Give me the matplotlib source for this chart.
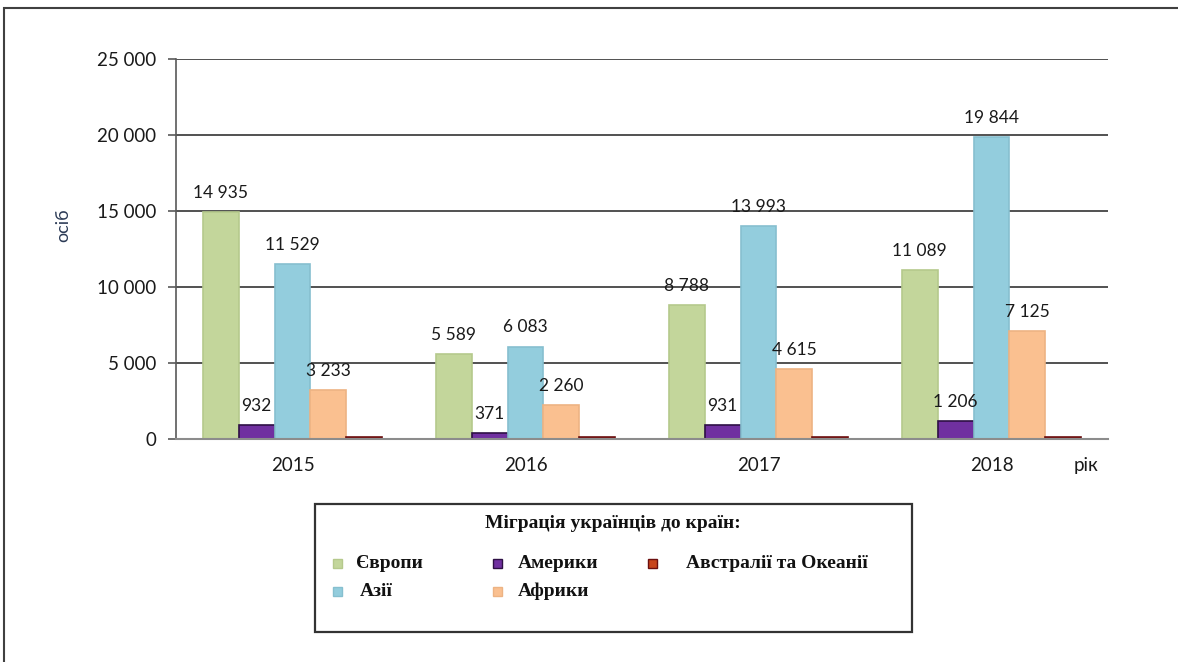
import matplotlib.pyplot as plt
from matplotlib.patches import Rectangle
import numpy as np

years = ["2015", "2016", "2017", "2018"]
europe = [14935, 5589, 8788, 11089]
america = [932, 371, 931, 1206]
asia = [11529, 6083, 13993, 19844]
africa = [3233, 2260, 4615, 7125]
oceania = [130, 110, 120, 140]

plt.rcParams['font.family'] = ['Lato', 'DejaVu Sans']

W, H = 1178, 662
fig = plt.figure(figsize=(W / 100, H / 100), dpi=100)
ax = fig.add_axes([0.1494, 0.3369, 0.7912, 0.574])


def fx(px):
    return px / W


def fy(py):
    return 1 - py / H


x = np.arange(len(years))
w = 0.154
series = [
    (europe, "#C3D69B", "#B5C98C", True),
    (america, "#7030A0", "#2E1045", True),
    (asia, "#93CDDD", "#86BFCF", True),
    (africa, "#FAC090", "#EDB383", True),
    (oceania, "#9E1B1B", "#6B0F0F", False),
]
for i, (vals, color, edge, labelled) in enumerate(series):
    pos = x + (i - 2) * w
    ax.bar(pos, vals, width=w, color=color, edgecolor=edge, linewidth=1.2, zorder=3)
    if labelled:
        for px, v in zip(pos, vals):
            ax.annotate(f"{v:,}".replace(",", " "), (px, v), xytext=(0, 8),
                        textcoords="offset points", ha="center", va="bottom",
                        fontsize=12.5, color="#1A1A1A", zorder=4)

ax.set_xlim(-0.5, 3.5)
ax.set_ylim(0, 25000)
ax.set_yticks(range(0, 25001, 5000))
ax.set_yticklabels([f"{t:,}".replace(",", " ") for t in range(0, 25001, 5000)])
ax.set_xticks(x)
ax.set_xticklabels(years)
ax.tick_params(axis="y", length=6, width=1.2, color="#595959", labelsize=13.5,
               labelcolor="#1A1A1A", pad=8)
ax.tick_params(axis="x", length=0, labelsize=13.5, labelcolor="#1A1A1A", pad=13)
ax.yaxis.grid(True, color="#333333", linewidth=1.2, zorder=0)
for side in ["top", "right"]:
    ax.spines[side].set_visible(False)
ax.spines["left"].set_color("#595959")
ax.spines["left"].set_linewidth(1.2)
ax.spines["bottom"].set_color("#8C8C8C")
ax.spines["bottom"].set_linewidth(1.5)
ax.spines["bottom"].set_zorder(5)

ax.set_ylabel("осіб", fontsize=13, color="#2B3A55")
ax.yaxis.set_label_coords(-0.1127, 0.563)
fig.text(fx(1086), fy(466), "рік", fontsize=13.5, color="#1A1A1A",
         ha="center", va="center")

# legend box drawn by hand: two rows, three columns
serif = {"family": "Liberation Serif", "weight": "bold", "size": 14}
fig.patches.append(Rectangle((fx(315), fy(632)), fx(912) - fx(315), fy(504) - fy(632),
                             transform=fig.transFigure, fill=False,
                             edgecolor="#333333", linewidth=1.6))
fig.text(fx(613), fy(523), "Міграція українців до країн:", ha="center", va="center",
         fontdict=serif, color="#111111")

names = ["Європи", "Азії", "Америки", "Африки", "Австралії та Океанії"]
face = ["#C3D69B", "#93CDDD", "#7030A0", "#FAC090", "#C8441B"]
edges = ["#B5C98C", "#86BFCF", "#2E1045", "#EDB383", "#6B0F0F"]
slots = [(337, 563, 356), (337, 591, 360), (497, 563, 518), (497, 591, 518), (653, 563, 686)]
sq = 9
for name, fc, ec, (sx, sy, tx) in zip(names, face, edges, slots):
    fig.patches.append(Rectangle((fx(sx - sq / 2), fy(sy + sq / 2)), sq / W, sq / H,
                                 transform=fig.transFigure, facecolor=fc,
                                 edgecolor=ec, linewidth=1))
    fig.text(fx(tx), fy(sy), name, ha="left", va="center", fontdict=serif,
             color="#111111")

# outer frame, running past the right and bottom edges
fig.patches.append(Rectangle((fx(4), -0.05), 1.1, fy(8) + 0.05,
                             transform=fig.transFigure, fill=False,
                             edgecolor="#404040", linewidth=1.5))

fig.savefig("out.png", dpi=100)
